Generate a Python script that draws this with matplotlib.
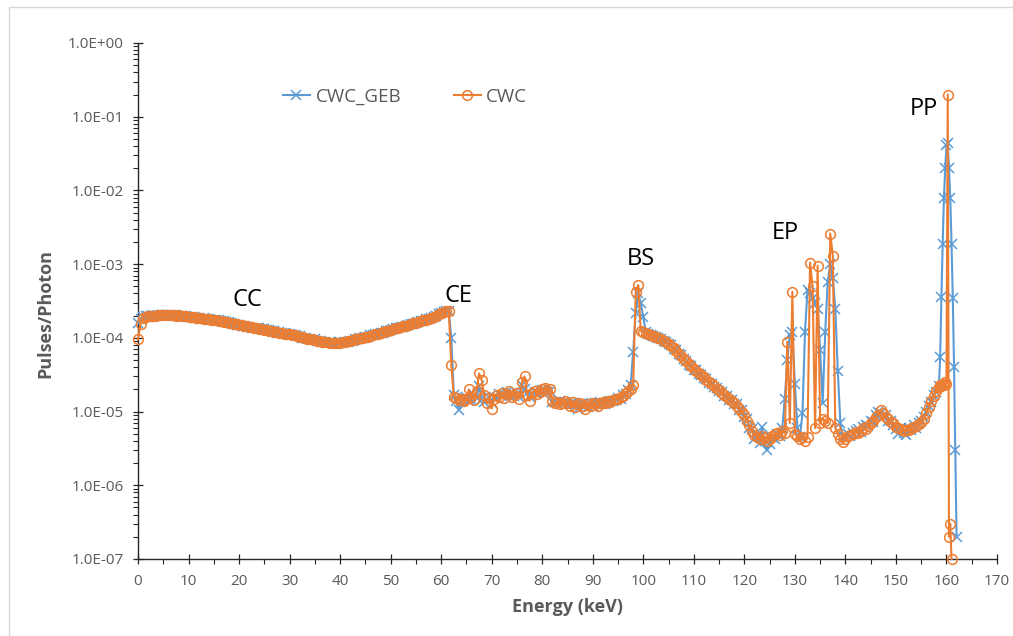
"""Simulated pulse-height spectrum per incident photon: CWC_GEB vs CWC."""

import matplotlib
matplotlib.use("Agg")
import matplotlib.pyplot as plt
import numpy as np
from matplotlib.patches import Rectangle
from matplotlib.ticker import FixedLocator, FuncFormatter, LogLocator, MultipleLocator, NullFormatter

# Energy bins: 0.5 keV up to 158.5 keV, then 0.25 keV across the photopeak.
energy_coarse = np.arange(0.0, 158.75, 0.5)
energy_peak_geb = [158.75, 159.0, 159.25, 159.5, 159.75, 160.0, 160.25,
                   160.5, 160.75, 161.0, 161.25, 161.5, 161.75, 162.0]
energy_peak_cwc = [158.75, 159.0, 159.25, 159.5, 159.75, 160.0, 160.25,
                   160.5, 160.75, 161.0]

# Pulses per photon, one row = 5 keV
cwc_geb_coarse = [
    1.6e-4, 1.8e-4, 1.9e-4, 1.95e-4, 1.98e-4, 2.0e-4, 2.02e-4, 2.0e-4, 2.05e-4, 2.04e-4,
    2.06e-4, 2.03e-4, 2.07e-4, 2.05e-4, 2.02e-4, 2.03e-4, 1.99e-4, 2.0e-4, 1.96e-4, 1.96e-4,
    1.93e-4, 1.90e-4, 1.90e-4, 1.87e-4, 1.87e-4, 1.83e-4, 1.84e-4, 1.80e-4, 1.80e-4, 1.76e-4,
    1.76e-4, 1.72e-4, 1.72e-4, 1.67e-4, 1.67e-4, 1.63e-4, 1.62e-4, 1.57e-4, 1.56e-4, 1.51e-4,
    1.51e-4, 1.47e-4, 1.46e-4, 1.42e-4, 1.42e-4, 1.38e-4, 1.38e-4, 1.34e-4, 1.34e-4, 1.30e-4,
    1.30e-4, 1.26e-4, 1.26e-4, 1.22e-4, 1.22e-4, 1.18e-4, 1.19e-4, 1.15e-4, 1.15e-4, 1.12e-4,
    1.13e-4, 1.09e-4, 1.09e-4, 1.05e-4, 1.05e-4, 1.01e-4, 1.01e-4, 9.7e-5, 9.8e-5, 9.4e-5,
    9.5e-5, 9.1e-5, 9.2e-5, 8.8e-5, 8.9e-5, 8.6e-5, 8.7e-5, 8.4e-5, 8.6e-5, 8.4e-5,
    8.7e-5, 8.6e-5, 8.9e-5, 8.85e-5, 9.2e-5, 9.2e-5, 9.6e-5, 9.6e-5, 1.0e-4, 9.9e-5,
    1.03e-4, 1.03e-4, 1.08e-4, 1.08e-4, 1.13e-4, 1.13e-4, 1.17e-4, 1.18e-4, 1.23e-4, 1.24e-4,
    1.29e-4, 1.30e-4, 1.35e-4, 1.36e-4, 1.41e-4, 1.42e-4, 1.47e-4, 1.49e-4, 1.54e-4, 1.56e-4,
    1.61e-4, 1.63e-4, 1.69e-4, 1.71e-4, 1.78e-4, 1.81e-4, 1.88e-4, 1.92e-4, 2.00e-4, 2.08e-4,
    2.18e-4, 2.25e-4, 2.28e-4, 2.30e-4, 1.0e-4, 1.7e-5, 1.4e-5, 1.05e-5, 1.4e-5, 1.55e-5,
    1.6e-5, 1.45e-5, 1.5e-5, 1.7e-5, 1.55e-5, 2.2e-5, 1.5e-5, 1.35e-5, 1.45e-5, 1.6e-5,
    1.3e-5, 1.6e-5, 1.55e-5, 1.75e-5, 1.65e-5, 1.7e-5, 1.85e-5, 1.7e-5, 1.8e-5, 1.65e-5,
    1.75e-5, 1.6e-5, 2.3e-5, 2.0e-5, 1.8e-5, 1.6e-5, 1.7e-5, 1.85e-5, 1.8e-5, 1.9e-5,
    1.95e-5, 1.9e-5, 1.85e-5, 1.9e-5, 1.35e-5, 1.35e-5, 1.3e-5, 1.4e-5, 1.25e-5, 1.35e-5,
    1.35e-5, 1.25e-5, 1.3e-5, 1.2e-5, 1.1e-5, 1.25e-5, 1.3e-5, 1.2e-5, 1.15e-5, 1.25e-5,
    1.2e-5, 1.3e-5, 1.25e-5, 1.35e-5, 1.3e-5, 1.25e-5, 1.35e-5, 1.4e-5, 1.4e-5, 1.45e-5,
    1.55e-5, 1.5e-5, 1.7e-5, 1.75e-5, 1.95e-5, 2.3e-5, 6.5e-5, 2.2e-4, 4.0e-4, 3.0e-4,
    1.9e-4, 1.2e-4, 1.13e-4, 1.1e-4, 1.06e-4, 1.04e-4, 9.9e-5, 9.7e-5, 9.1e-5, 8.9e-5,
    8.2e-5, 7.9e-5, 7.1e-5, 6.8e-5, 6.0e-5, 5.8e-5, 5.1e-5, 4.9e-5, 4.3e-5, 4.2e-5,
    3.7e-5, 3.65e-5, 3.25e-5, 3.15e-5, 2.85e-5, 2.75e-5, 2.45e-5, 2.4e-5, 2.15e-5, 2.1e-5,
    1.9e-5, 1.85e-5, 1.65e-5, 1.65e-5, 1.45e-5, 1.45e-5, 1.25e-5, 1.25e-5, 1.05e-5, 1.05e-5,
    8.5e-6, 8.0e-6, 6.0e-6, 5.8e-6, 4.2e-6, 4.8e-6, 3.8e-6, 6.2e-6, 4.0e-6, 3.0e-6,
    3.6e-6, 4.5e-6, 4.2e-6, 5.0e-6, 4.6e-6, 6.0e-6, 1.5e-5, 5.0e-5, 1.1e-4, 1.2e-4,
    2.4e-5, 6.0e-6, 4.5e-6, 9.5e-6, 1.2e-4, 4.5e-4, 4.0e-4, 3.5e-4, 3.0e-4, 2.5e-4,
    6.8e-5, 1.3e-5, 1.2e-4, 5.8e-4, 1.0e-3, 6.5e-4, 2.5e-4, 3.5e-5, 7.0e-6, 4.5e-6,
    4.5e-6, 5.0e-6, 4.6e-6, 5.2e-6, 5.5e-6, 5.8e-6, 5.3e-6, 6.2e-6, 6.5e-6, 6.3e-6,
    7.5e-6, 7.2e-6, 9.0e-6, 9.8e-6, 9.5e-6, 8.5e-6, 9.0e-6, 7.5e-6, 7.5e-6, 6.5e-6,
    5.8e-6, 5.0e-6, 6.0e-6, 5.2e-6, 4.8e-6, 6.0e-6, 5.6e-6, 6.5e-6, 6.0e-6, 7.0e-6,
    7.5e-6, 8.5e-6, 1.0e-5, 1.2e-5, 1.35e-5, 1.7e-5, 1.85e-5, 2.2e-5,
]
cwc_geb_peak = [5.5e-5, 3.6e-4, 1.9e-3, 7.9e-3, 2.0e-2, 4.1e-2, 4.4e-2,
                2.0e-2, 7.9e-3, 1.9e-3, 3.5e-4, 4.0e-5, 3.0e-6, 2.0e-7]

cwc_coarse = [
    9.5e-5, 1.55e-4, 1.85e-4, 1.93e-4, 1.96e-4, 1.98e-4, 2.0e-4, 2.01e-4, 2.03e-4, 2.02e-4,
    2.05e-4, 2.04e-4, 2.06e-4, 2.03e-4, 2.04e-4, 2.01e-4, 2.02e-4, 1.98e-4, 1.97e-4, 1.95e-4,
    1.92e-4, 1.91e-4, 1.89e-4, 1.88e-4, 1.86e-4, 1.84e-4, 1.83e-4, 1.81e-4, 1.79e-4, 1.77e-4,
    1.75e-4, 1.73e-4, 1.71e-4, 1.68e-4, 1.66e-4, 1.64e-4, 1.61e-4, 1.58e-4, 1.55e-4, 1.52e-4,
    1.50e-4, 1.48e-4, 1.45e-4, 1.43e-4, 1.41e-4, 1.39e-4, 1.37e-4, 1.35e-4, 1.33e-4, 1.31e-4,
    1.29e-4, 1.27e-4, 1.25e-4, 1.23e-4, 1.21e-4, 1.19e-4, 1.18e-4, 1.16e-4, 1.14e-4, 1.13e-4,
    1.12e-4, 1.10e-4, 1.08e-4, 1.06e-4, 1.04e-4, 1.02e-4, 1.00e-4, 9.8e-5, 9.7e-5, 9.5e-5,
    9.4e-5, 9.2e-5, 9.1e-5, 8.9e-5, 8.8e-5, 8.7e-5, 8.6e-5, 8.55e-5, 8.5e-5, 8.5e-5,
    8.6e-5, 8.7e-5, 8.8e-5, 8.95e-5, 9.1e-5, 9.3e-5, 9.5e-5, 9.7e-5, 9.9e-5, 1.0e-4,
    1.02e-4, 1.04e-4, 1.07e-4, 1.09e-4, 1.12e-4, 1.14e-4, 1.16e-4, 1.19e-4, 1.22e-4, 1.25e-4,
    1.28e-4, 1.31e-4, 1.34e-4, 1.37e-4, 1.40e-4, 1.43e-4, 1.46e-4, 1.50e-4, 1.53e-4, 1.57e-4,
    1.60e-4, 1.64e-4, 1.68e-4, 1.72e-4, 1.77e-4, 1.82e-4, 1.87e-4, 1.93e-4, 1.99e-4, 2.10e-4,
    2.20e-4, 2.27e-4, 2.30e-4, 2.35e-4, 4.3e-5, 1.6e-5, 1.55e-5, 1.45e-5, 1.5e-5, 1.4e-5,
    1.5e-5, 2.0e-5, 1.6e-5, 1.45e-5, 1.9e-5, 3.3e-5, 2.7e-5, 1.7e-5, 1.3e-5, 1.55e-5,
    1.1e-5, 1.5e-5, 1.7e-5, 1.6e-5, 1.8e-5, 1.55e-5, 1.75e-5, 1.9e-5, 1.6e-5, 1.7e-5,
    1.8e-5, 1.5e-5, 2.5e-5, 3.0e-5, 1.7e-5, 1.4e-5, 1.8e-5, 1.9e-5, 1.75e-5, 1.85e-5,
    2.0e-5, 2.1e-5, 1.9e-5, 2.05e-5, 1.4e-5, 1.3e-5, 1.35e-5, 1.25e-5, 1.3e-5, 1.4e-5,
    1.3e-5, 1.2e-5, 1.35e-5, 1.15e-5, 1.25e-5, 1.3e-5, 1.2e-5, 1.1e-5, 1.25e-5, 1.2e-5,
    1.3e-5, 1.25e-5, 1.2e-5, 1.3e-5, 1.35e-5, 1.3e-5, 1.4e-5, 1.35e-5, 1.45e-5, 1.5e-5,
    1.5e-5, 1.6e-5, 1.65e-5, 1.8e-5, 1.9e-5, 2.0e-5, 2.3e-5, 4.2e-4, 5.2e-4, 1.25e-4,
    1.2e-4, 1.15e-4, 1.12e-4, 1.1e-4, 1.07e-4, 1.03e-4, 1.0e-4, 9.6e-5, 9.2e-5, 8.8e-5,
    8.3e-5, 7.8e-5, 7.2e-5, 6.7e-5, 6.1e-5, 5.7e-5, 5.2e-5, 4.8e-5, 4.4e-5, 4.1e-5,
    3.8e-5, 3.6e-5, 3.3e-5, 3.1e-5, 2.9e-5, 2.7e-5, 2.5e-5, 2.35e-5, 2.2e-5, 2.05e-5,
    1.95e-5, 1.8e-5, 1.7e-5, 1.6e-5, 1.5e-5, 1.4e-5, 1.3e-5, 1.2e-5, 1.1e-5, 1.0e-5,
    9.0e-6, 7.5e-6, 6.5e-6, 5.5e-6, 4.8e-6, 4.5e-6, 4.2e-6, 4.6e-6, 4.4e-6, 4.0e-6,
    4.3e-6, 4.6e-6, 4.9e-6, 5.2e-6, 4.8e-6, 5.5e-6, 5.2e-6, 8.9e-5, 7.0e-6, 4.2e-4,
    5.0e-6, 4.6e-6, 4.2e-6, 4.5e-6, 4.0e-6, 4.5e-6, 1.05e-3, 5.0e-4, 6.0e-6, 9.5e-4,
    7.0e-6, 8.0e-6, 7.5e-6, 7.0e-6, 2.6e-3, 1.3e-3, 6.0e-6, 5.0e-6, 4.2e-6, 3.9e-6,
    4.2e-6, 4.6e-6, 4.8e-6, 5.0e-6, 5.3e-6, 5.1e-6, 5.5e-6, 6.0e-6, 5.8e-6, 6.4e-6,
    7.0e-6, 7.5e-6, 8.5e-6, 9.0e-6, 1.05e-5, 9.5e-6, 8.5e-6, 8.0e-6, 7.2e-6, 7.0e-6,
    6.2e-6, 6.0e-6, 5.8e-6, 5.5e-6, 5.7e-6, 5.6e-6, 5.9e-6, 6.1e-6, 6.4e-6, 6.8e-6,
    7.2e-6, 8.0e-6, 9.5e-6, 1.15e-5, 1.4e-5, 1.65e-5, 1.9e-5, 2.15e-5,
]
cwc_peak = [2.3e-5, 2.2e-5, 2.4e-5, 2.3e-5, 2.5e-5, 2.4e-5, 2.0e-1,
            2.0e-7, 3.0e-7, 1.0e-7]

# Spectral features: label, energy (keV), height
feature_labels = ["CC", "CE", "BS", "EP", "PP"]
feature_energy = [21.6, 63.5, 99.6, 128.2, 155.5]
feature_height = [3.3e-4, 3.7e-4, 1.17e-3, 2.65e-3, 0.127]

y_ticks = [1e-7, 1e-6, 1e-5, 1e-4, 1e-3, 1e-2, 1e-1, 1e0]

BLUE = "#5B9BD5"
ORANGE = "#ED7D31"
GREY = "#595959"

plt.rcParams["font.family"] = ["Open Sans", "DejaVu Sans"]

W, H = 1013, 636
fig = plt.figure(figsize=(W / 100, H / 100), dpi=100)
ax = fig.add_axes([138 / W, 1 - 559 / H, 859 / W, 516 / H])

e_geb = np.concatenate([energy_coarse, energy_peak_geb])
e_cwc = np.concatenate([energy_coarse, energy_peak_cwc])
y_geb = np.concatenate([cwc_geb_coarse, cwc_geb_peak])
y_cwc = np.concatenate([cwc_coarse, cwc_peak])

ax.plot(e_geb, y_geb, color=BLUE, lw=1.5, marker="x", ms=7, mew=1.1,
        label="CWC_GEB", clip_on=False, zorder=3)
ax.plot(e_cwc, y_cwc, color=ORANGE, lw=1.5, marker="o", ms=7, mew=1.1,
        mfc="none", label="CWC", clip_on=False, zorder=4)

ax.set_yscale("log")
ax.set_ylim(1e-7, 1e0)
ax.set_xlim(0, 170)

ax.yaxis.set_major_locator(FixedLocator(y_ticks))
ax.yaxis.set_minor_locator(LogLocator(base=10, subs=np.arange(2, 10), numticks=20))
ax.yaxis.set_minor_formatter(NullFormatter())


def sci_label(v, _pos):
    exp = int(np.floor(np.log10(v) + 1e-9))
    return f"{v / 10 ** exp:.1f}E{exp:+03d}"


ax.yaxis.set_major_formatter(FuncFormatter(sci_label))
ax.xaxis.set_major_locator(MultipleLocator(10))
ax.xaxis.set_minor_locator(MultipleLocator(5))

for side in ("top", "right"):
    ax.spines[side].set_visible(False)
for side in ("left", "bottom"):
    ax.spines[side].set_color("#262626")
    ax.spines[side].set_linewidth(1.0)

ax.tick_params(axis="both", which="major", direction="inout", length=7, width=0.9,
               color="#262626", labelcolor=GREY, labelsize=11)
ax.tick_params(axis="both", which="minor", direction="out", length=3.5, width=0.8,
               color="#262626")
ax.tick_params(axis="y", which="major", pad=7)
ax.tick_params(axis="x", which="major", pad=7)

for text, xe, yv in zip(feature_labels, feature_energy, feature_height):
    ax.text(xe, yv, text, fontsize=17, color="black", ha="center", va="center")

fig.text(45 / W, 1 - 313 / H, "Pulses/Photon", rotation=90, ha="center", va="center",
         fontsize=13, fontweight="bold", color=GREY)
fig.text(567 / W, 1 - 607 / H, "Energy (keV)", ha="center", va="center",
         fontsize=13, fontweight="bold", color=GREY)

ax.legend(loc="center", bbox_to_anchor=(405 / W, 1 - 97 / H), bbox_transform=fig.transFigure,
          ncol=2, frameon=False, fontsize=13.5, labelcolor=GREY, handlelength=1.45,
          handletextpad=0.3, columnspacing=2.8)

# light chart-area border
fig.patches.append(Rectangle((9 / W, -0.1), 1.2, 1.1 - 7 / H, transform=fig.transFigure,
                             fill=False, edgecolor="#d9d9d9", lw=1.0))

fig.savefig("out.png", dpi=100)
